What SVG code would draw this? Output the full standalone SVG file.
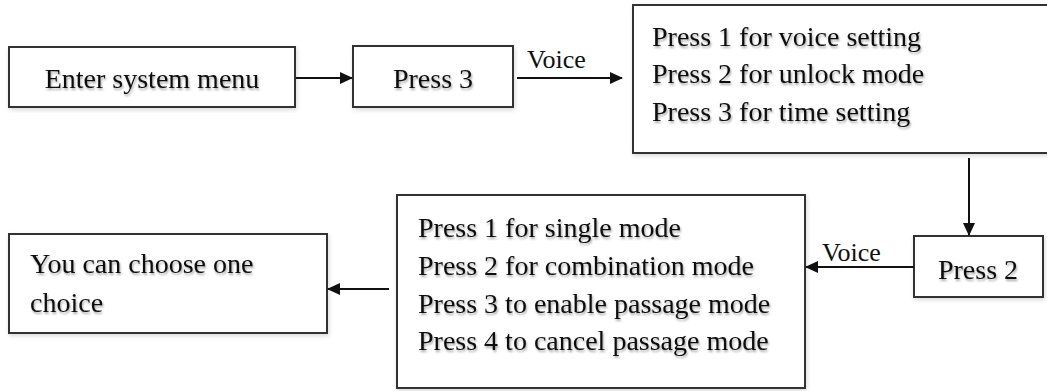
<svg xmlns="http://www.w3.org/2000/svg" width="1047" height="391" viewBox="0 0 1047 391">
<style>
.box{fill:#fff;stroke:#333;stroke-width:2;filter:url(#bs)}
.t{font-family:"Liberation Serif","Times New Roman",serif;font-size:28px;fill:#111;filter:url(#ts)}
.lbl{font-family:"Liberation Serif","Times New Roman",serif;font-size:26px;fill:#111}
.edge{stroke:#111;stroke-width:2;fill:none;marker-end:url(#ah)}
</style>
<defs>
<marker id="ah" markerWidth="13" markerHeight="12" refX="12" refY="6" orient="auto" markerUnits="userSpaceOnUse">
<path d="M0,0 L13,6 L0,12 Z" fill="#111"/>
</marker>
<filter id="ts" x="-10%" y="-30%" width="120%" height="170%">
<feDropShadow dx="1" dy="2" stdDeviation="1.2" flood-color="#000" flood-opacity="0.35"/>
</filter>
<filter id="bs" x="-5%" y="-5%" width="110%" height="115%">
<feDropShadow dx="1" dy="2" stdDeviation="2" flood-color="#000" flood-opacity="0.15"/>
</filter>
</defs>
<g id="n1">
<rect class="box" x="9" y="47" width="286" height="60"/>
<text class="t" x="152" y="88" text-anchor="middle">Enter system menu</text>
</g>
<g id="n2">
<rect class="box" x="353" y="46" width="160" height="61"/>
<text class="t" x="433" y="88" text-anchor="middle">Press 3</text>
</g>
<g id="n3">
<rect class="box" x="633" y="5" width="430" height="148"/>
<text class="t" x="652" y="46">Press 1 for voice setting</text>
<text class="t" x="652" y="83">Press 2 for unlock mode</text>
<text class="t" x="652" y="121">Press 3 for time setting</text>
</g>
<g id="n4">
<rect class="box" x="914" y="236" width="129" height="61"/>
<text class="t" x="978" y="279" text-anchor="middle">Press 2</text>
</g>
<g id="n5">
<rect class="box" x="397" y="195" width="408" height="193"/>
<text class="t" x="418" y="237">Press 1 for single mode</text>
<text class="t" x="418" y="275">Press 2 for combination mode</text>
<text class="t" x="418" y="313">Press 3 to enable passage mode</text>
<text class="t" x="418" y="350">Press 4 to cancel passage mode</text>
</g>
<g id="n6">
<rect class="box" x="9" y="234" width="318" height="99"/>
<text class="t" x="30" y="273">You can choose one</text>
<text class="t" x="30" y="312">choice</text>
</g>
<g id="connectors">
<line class="edge" x1="296" y1="78" x2="352" y2="78"/>
<line class="edge" x1="517" y1="78" x2="622" y2="78"/>
<text class="lbl" x="527" y="68">Voice</text>
<line class="edge" x1="969" y1="158" x2="969" y2="235"/>
<line class="edge" x1="914" y1="267" x2="806" y2="267"/>
<text class="lbl" x="822" y="261">Voice</text>
<line class="edge" x1="389" y1="289" x2="328" y2="289"/>
</g>
</svg>
